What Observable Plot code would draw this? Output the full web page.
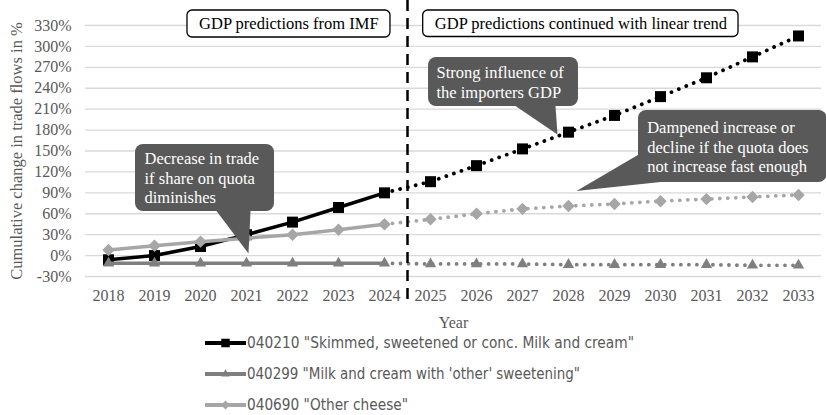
<!DOCTYPE html>
<html>
<head>
<meta charset="utf-8">
<script src="https://cdn.jsdelivr.net/npm/d3@7"></script>
<script src="https://cdn.jsdelivr.net/npm/@observablehq/plot@0.6"></script>
<style>
  html, body { margin: 0; padding: 0; background: #fff; }
  #chart svg { display: block; }
</style>
</head>
<body>
<div id="chart"></div>
<script>
// ---- data ----
const years = [2018, 2019, 2020, 2021, 2022, 2023, 2024, 2025, 2026, 2027, 2028, 2029, 2030, 2031, 2032, 2033];
const skimmed = [-6, 0, 13, 30, 48, 69, 90, 106, 129, 153, 177, 201, 228, 255, 285, 315];
const otherSweetening = [-11, -11, -11, -11, -11, -11, -11, -12, -12, -12, -13, -13, -13, -13, -14, -14];
const otherCheese = [8, 14, 20, 25, 30, 37, 45, 52, 60, 67, 71, 74, 78, 81, 84, 87];
const seriesNames = [
  '040210 "Skimmed, sweetened or conc. Milk and cream"',
  "040299 \"Milk and cream with 'other' sweetening\"",
  '040690 "Other cheese"'
];
const yTicks = [-30, 0, 30, 60, 90, 120, 150, 180, 210, 240, 270, 300, 330];
const lastIMFYear = 2024;
const yTitle = "Cumulative change in trade flows in %";
const xTitle = "Year";
const headerLeft = "GDP predictions from IMF";
const headerRight = "GDP predictions continued with linear trend";
const note1 = "Decrease in trade\nif share on quota\ndiminishes";
const note2 = "Strong influence of\nthe importers GDP";
const note3 = "Dampened increase or\ndecline if the quota does\nnot increase fast enough";

// ---- build rows ----
const seriesValues = [skimmed, otherSweetening, otherCheese];
const rows = [];
seriesNames.forEach((s, i) => years.forEach((y, j) => rows.push({series: s, year: y, value: seriesValues[i][j]})));
const colors = ["#000000", "#7f7f7f", "#a6a6a6"];
const symbols = ["square", "triangle2", "diamond2"];
const radii = [6.2, 5.4, 5.6];

const serif = "'Liberation Serif', 'Times New Roman', serif";
const calloutFill = "#595959";

const lineMarks = [];
seriesNames.forEach((s, i) => {
  const sRows = rows.filter(d => d.series === s);
  lineMarks.push(Plot.line(sRows.filter(d => d.year <= lastIMFYear), {x: "year", y: "value", stroke: colors[i], strokeWidth: 3.5}));
  lineMarks.push(Plot.line(sRows.filter(d => d.year >= lastIMFYear), {x: "year", y: "value", stroke: colors[i], strokeWidth: 3.8, strokeDasharray: "0.01,8", strokeLinecap: "round"}));
  lineMarks.push(Plot.dot(sRows, {x: "year", y: "value", symbol: () => symbols[i], fill: colors[i], stroke: "none", r: radii[i]}));
});

function callout(box, pointer, text, textPos) {
  return [
    Plot.rect([0], {x1: box[0], x2: box[1], y1: box[2], y2: box[3], fill: calloutFill, rx: 8}),
    Plot.line(pointer, {x: d => d[0], y: d => d[1], fill: calloutFill, stroke: "none"}),
    Plot.text([text], {x: textPos[0], y: textPos[1], text: d => d, textAnchor: "start", lineAnchor: "middle", lineHeight: 1.19, fill: "white", fontSize: 16.5, fontFamily: serif})
  ];
}

const plot = Plot.plot({
  width: 826,
  height: 330,
  marginLeft: 85,
  marginRight: 5,
  marginTop: 25,
  marginBottom: 54,
  style: {fontFamily: serif, fontSize: "16px", color: "#595959", background: "white"},
  x: {type: "linear", domain: [2017.5, 2033.5]},
  y: {domain: [-30, 330]},
  marks: [
    Plot.gridY({ticks: yTicks, stroke: "#d9d9d9", strokeOpacity: 1, strokeWidth: 1.3}),
    Plot.axisX({ticks: years, tickFormat: "d", tickSize: 0, tickPadding: 13, label: null, fontSize: 16}),
    Plot.axisY({ticks: yTicks, tickFormat: d => d + "%", tickSize: 0, tickPadding: 14, label: null, fontSize: 16}),
    Plot.text([yTitle], {frameAnchor: "left", dx: -69, rotate: -90, textAnchor: "middle", lineAnchor: "middle", text: d => d, fill: "#595959", fontSize: 16.5}),
    Plot.text([xTitle], {frameAnchor: "bottom", dy: 46, lineAnchor: "middle", text: d => d, fill: "#595959", fontSize: 16}),
    ...lineMarks,
    Plot.ruleX([lastIMFYear + 0.5], {y1: 366, y2: -70, stroke: "black", strokeWidth: 2.5, strokeDasharray: "11,7"}),
    // header boxes
    Plot.rect([0], {x1: 2019.717, x2: 2024.13, y1: 351.5, y2: 312.8, fill: "white", stroke: "black", strokeWidth: 1.3, rx: 5}),
    Plot.text([headerLeft], {x: 2021.92, y: 332.2, text: d => d, fill: "black", fontSize: 16.5}),
    Plot.rect([0], {x1: 2024.841, x2: 2031.696, y1: 351.5, y2: 313.5, fill: "white", stroke: "black", strokeWidth: 1.3, rx: 5}),
    Plot.text([headerRight], {x: 2028.27, y: 332.5, text: d => d, fill: "black", fontSize: 16.5}),
    // callouts
    ...callout([2018.587, 2021.609, 159.3, 63.2], [[2020.348, 64], [2021.087, 64], [2021.043, 3]], note1, [2018.783, 112]),
    ...callout([2024.957, 2028.217, 284.1, 213.8], [[2026.848, 214.5], [2027.717, 214.5], [2027.761, 173.7]], note2, [2025.13, 249.7]),
    ...callout([2029.522, 2033.62, 208.1, 104.8], [[2029.6, 148], [2028.174, 92.6], [2030.0, 105.5]], note3, [2029.711, 156.5])
  ]
});
document.getElementById("chart").appendChild(plot);

// ---- legend (below the chart) ----
const legend = d3.select("#chart").append("svg")
  .attr("width", 826).attr("height", 85)
  .style("display", "block");
const rowY = [13, 44, 75];
const textLens = [387, 333, 161];
seriesNames.forEach((s, i) => {
  const g = legend.append("g").attr("transform", `translate(0,${rowY[i]})`);
  g.append("line").attr("x1", 205).attr("x2", 246).attr("y1", 0).attr("y2", 0)
    .attr("stroke", colors[i]).attr("stroke-width", 4);
  g.append("path").attr("transform", "translate(225.5,0)")
    .attr("d", d3.symbol(i === 0 ? d3.symbolSquare : i === 1 ? d3.symbolTriangle2 : d3.symbolDiamond2, (i === 0 ? 4.8 : 4) ** 2 * Math.PI)())
    .attr("fill", colors[i]);
  g.append("text").attr("x", 247).attr("y", 0).attr("dy", "0.35em")
    .attr("textLength", textLens[i]).attr("lengthAdjust", "spacingAndGlyphs")
    .attr("font-family", "'Liberation Sans Narrow', 'DejaVu Sans Condensed', 'Liberation Sans', Arial, sans-serif").attr("font-size", 15)
    .attr("fill", "#595959").text(s);
});
</script>
</body>
</html>
